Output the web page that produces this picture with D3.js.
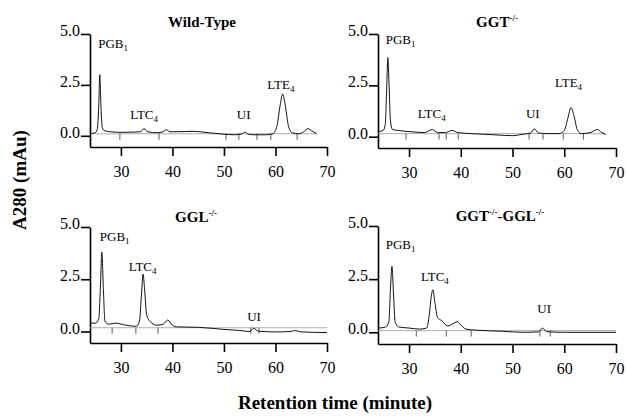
<!DOCTYPE html>
<html lang="en">
<head>
<meta charset="utf-8">
<title>Retention time chromatograms</title>
<script src="https://d3js.org/d3.v7.min.js"></script>
<style>
    body { margin: 0; background: #fff; }
    svg { font-family: "Liberation Serif", "DejaVu Serif", serif; }
    .axis path, .axis line { stroke: #000; stroke-width: 1.6px; }
    .axis text { font-size: 16px; fill: #000; font-family: "Liberation Serif", serif; }
    .trace { fill: none; stroke: #111; stroke-width: 1px; }
    .base { stroke: #999; stroke-width: 0.8px; }
    .mark { stroke: #333; stroke-width: 0.8px; }
    .title { font-weight: bold; font-size: 15px; }
    .ann { font-size: 13px; }
</style>
</head>
<body>
<svg width="626" height="416"></svg>
<script>
    // chromatogram traces: [minute, A280]
    var wildType = [[24,0.1],[25,0.15],[25.4,0.3],[25.7,1.5],[25.9,3.0],[26.1,1.6],[26.4,0.4],[26.8,0.25],[28,0.2],[30,0.17],[32,0.18],[33.8,0.2],[34.5,0.35],[35.2,0.2],[37,0.15],[38.2,0.2],[38.8,0.3],[39.5,0.2],[41,0.2],[44,0.22],[47,0.15],[50,0.08],[52,0.05],[53.5,0.1],[54.1,0.18],[54.7,0.08],[56,0.05],[58,0.05],[59.5,0.1],[60.3,0.5],[60.9,1.5],[61.4,2.05],[61.9,1.5],[62.5,0.5],[63.2,0.15],[64.5,0.1],[65.5,0.2],[66.3,0.35],[67,0.25],[68,0.1]];
    var ggt = [[24,0.25],[25,0.3],[25.4,0.6],[25.7,2.5],[25.9,3.85],[26.1,2.8],[26.4,0.8],[26.8,0.35],[28,0.3],[30,0.25],[33,0.2],[34.5,0.35],[35.5,0.2],[37,0.2],[38.3,0.3],[39.5,0.2],[42,0.15],[46,0.1],[50,0.05],[52,0.12],[53.5,0.18],[54.2,0.38],[55,0.18],[57,0.15],[59,0.15],[60,0.3],[60.7,0.9],[61.3,1.42],[61.9,1.0],[62.5,0.35],[63.3,0.15],[65,0.2],[66.4,0.35],[67,0.25],[68,0.1]];
    var ggl = [[24,0.4],[25,0.4],[25.7,0.6],[26,2.0],[26.3,3.8],[26.6,2.0],[26.9,0.5],[27.5,0.35],[29,0.4],[31,0.3],[33,0.25],[33.6,0.5],[34,1.8],[34.3,2.75],[34.6,2.0],[35,0.8],[35.6,0.5],[37,0.3],[38.2,0.35],[39.1,0.55],[40,0.3],[41,0.22],[45,0.2],[50,0.1],[53,0.05],[55,0.0],[55.8,0.15],[56.6,0.02],[60,-0.02],[63,0.0],[63.7,0.05],[65,-0.02],[70,-0.05]];
    var ggtGgl = [[24,0.2],[25.5,0.25],[26.1,0.5],[26.4,2.0],[26.7,3.1],[27,1.8],[27.3,0.5],[28,0.25],[30,0.2],[32,0.15],[33.4,0.2],[33.9,0.8],[34.3,1.7],[34.6,2.0],[35,1.4],[35.5,0.7],[36.3,0.55],[37.5,0.3],[38.5,0.4],[39.3,0.5],[40.2,0.3],[41,0.15],[43,0.1],[48,0.05],[52,0.0],[55,0.02],[55.8,0.2],[56.6,0.03],[60,0.0],[65,0.0],[70,0.0]];

    // integration marks (peak boundaries) and baseline level
    var wtMarks = [29.8, 37.4, 50.4, 52.9, 56.4, 59.1, 64.2];
    var ggtMarks = [29.4, 35.8, 37.2, 39.5, 53.2, 55.9, 59.8, 63.7];
    var gglMarks = [28.3, 32.9, 37.2, 55.2, 56.8];
    var ggtGglMarks = [31.4, 37.2, 42, 55.3, 57.3];
    var baseLevels = [0.1, 0.15, 0.18, 0.08];

    // peak labels: [text, subscript, minute, A280]
    var wtLabels = [["PGB", "1", 25.6, 4.3], ["LTC", "4", 31.8, 0.82], ["UI", "", 52.5, 0.82], ["LTE", "4", 58.4, 2.3]];
    var ggtLabels = [["PGB", "1", 25.5, 4.5], ["LTC", "4", 31.7, 0.92], ["UI", "", 52.6, 0.92], ["LTE", "4", 58.2, 2.4]];
    var gglLabels = [["PGB", "1", 25.9, 4.33], ["LTC", "4", 31.5, 2.9], ["UI", "", 54.5, 0.5]];
    var ggtGglLabels = [["PGB", "1", 25.5, 3.9], ["LTC", "4", 32.3, 2.4], ["UI", "", 54.8, 0.9]];

    var titles = [["Wild-Type"], ["GGT", "-/-"], ["GGL", "-/-"], ["GGT", "-/-", "-GGL", "-/-"]];
    var xTicks = [30, 40, 50, 60, 70];
    var yTicks = [0, 2.5, 5];
    var xDomain = [24, 70];
    var yDomain = [-0.55, 5];

    var panels = [
        {title: titles[0], data: wildType, marks: wtMarks, labels: wtLabels, base: baseLevels[0], x0: 90, x1: 327, top: 34, bottom: 147, tx: 202, ty: 27},
        {title: titles[1], data: ggt, marks: ggtMarks, labels: ggtLabels, base: baseLevels[1], x0: 378, x1: 616, top: 34, bottom: 148, tx: 497, ty: 27},
        {title: titles[2], data: ggl, marks: gglMarks, labels: gglLabels, base: baseLevels[2], x0: 90, x1: 327, top: 227, bottom: 343, tx: 196, ty: 222},
        {title: titles[3], data: ggtGgl, marks: ggtGglMarks, labels: ggtGglLabels, base: baseLevels[3], x0: 378, x1: 616, top: 226, bottom: 344, tx: 500, ty: 221}
    ];

    var svg = d3.select("svg");

    panels.forEach(function(p) {
        var x = d3.scaleLinear().domain(xDomain).range([p.x0, p.x1]);
        var y = d3.scaleLinear().domain(yDomain).range([p.bottom, p.top]);
        var g = svg.append("g");

        g.append("g")
            .attr("class", "axis")
            .attr("transform", "translate(0," + p.bottom + ")")
            .call(d3.axisBottom(x).tickValues(xTicks).tickSize(9).tickSizeOuter(0).tickPadding(10));

        g.append("g")
            .attr("class", "axis")
            .attr("transform", "translate(" + p.x0 + ",0)")
            .call(d3.axisLeft(y).tickValues(yTicks).tickFormat(d3.format(".1f")).tickSize(9).tickSizeOuter(0).tickPadding(1))
            .selectAll("text").attr("dy", "0.1em");

        // integration baseline and boundary marks
        g.append("line")
            .attr("class", "base")
            .attr("x1", x(24)).attr("x2", x(d3.max(p.data, function(d) { return d[0]; })))
            .attr("y1", y(p.base)).attr("y2", y(p.base));

        g.selectAll(".mark")
            .data(p.marks)
            .enter().append("line")
            .attr("class", "mark")
            .attr("x1", function(d) { return x(d); })
            .attr("x2", function(d) { return x(d); })
            .attr("y1", y(p.base))
            .attr("y2", y(p.base) + 6);

        var line = d3.line()
            .curve(d3.curveMonotoneX)
            .x(function(d) { return x(d[0]); })
            .y(function(d) { return y(d[1]); });

        g.append("path")
            .attr("class", "trace")
            .attr("d", line(p.data));

        // peak labels
        p.labels.forEach(function(l) {
            var t = g.append("text")
                .attr("class", "ann")
                .attr("x", x(l[2]))
                .attr("y", y(l[3]));
            t.append("tspan").text(l[0]);
            if (l[1]) {
                t.append("tspan").attr("font-size", "9px").attr("dy", "3").text(l[1]);
            }
        });

        // panel title with superscripts
        var tt = g.append("text")
            .attr("class", "title")
            .attr("x", p.tx)
            .attr("y", p.ty)
            .attr("text-anchor", "middle");
        p.title.forEach(function(s, i) {
            if (i % 2 == 1) {
                tt.append("tspan").attr("font-size", "9px").attr("dy", "-6").text(s);
            } else {
                tt.append("tspan").attr("dy", i == 0 ? "0" : "6").text(s);
            }
        });
    });

    svg.append("text")
        .attr("transform", "translate(26,180) rotate(-90)")
        .attr("text-anchor", "middle")
        .style("font-weight", "bold")
        .style("font-size", "19px")
        .text("A280 (mAu)");

    svg.append("text")
        .attr("x", 335)
        .attr("y", 409)
        .attr("text-anchor", "middle")
        .style("font-weight", "bold")
        .style("font-size", "19px")
        .text("Retention time (minute)");
</script>
</body>
</html>
